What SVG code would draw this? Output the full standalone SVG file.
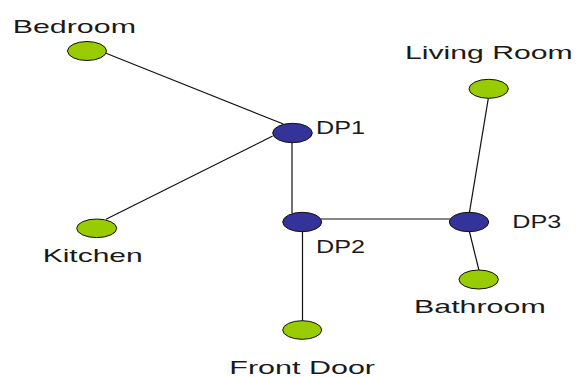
<svg xmlns="http://www.w3.org/2000/svg" width="576" height="377" viewBox="0 0 576 377">
<style>
.room{fill:#99cc00;stroke:#111;stroke-width:1}
.dp{fill:#333399;stroke:#111;stroke-width:1}
.lbl{font-family:"Liberation Sans",Arial,sans-serif;font-size:19px;fill:#1a1a1a}
#connectors line{stroke:#111;stroke-width:1.2}
</style>
<rect width="576" height="377" fill="#fff"/>
<g id="connectors">
<line x1="106" y1="53.3" x2="283.3" y2="124"/>
<line x1="272.7" y1="136" x2="106" y2="219.3"/>
<line x1="292" y1="142" x2="292" y2="213"/>
<line x1="302.5" y1="231" x2="302.5" y2="321"/>
<line x1="321" y1="219" x2="450" y2="219"/>
<line x1="469.3" y1="213.3" x2="488.3" y2="98.3"/>
<line x1="469.3" y1="231" x2="479" y2="270.5"/>
</g>
<g id="bedroom">
<ellipse class="room" cx="87" cy="51" rx="19.5" ry="9.5"/>
<text class="lbl" x="12.7" y="33.3" textLength="123.3" lengthAdjust="spacingAndGlyphs">Bedroom</text>
</g>
<g id="dp1">
<ellipse class="dp" cx="292.5" cy="133" rx="19.8" ry="9.7"/>
<text class="lbl" x="316" y="134" textLength="49" lengthAdjust="spacingAndGlyphs">DP1</text>
</g>
<g id="kitchen">
<ellipse class="room" cx="96.7" cy="228.3" rx="20" ry="9.3"/>
<text class="lbl" x="42.7" y="261.7" textLength="100" lengthAdjust="spacingAndGlyphs">Kitchen</text>
</g>
<g id="dp2">
<ellipse class="dp" cx="302.2" cy="222" rx="19.5" ry="9.7"/>
<text class="lbl" x="316" y="253.3" textLength="49" lengthAdjust="spacingAndGlyphs">DP2</text>
</g>
<g id="front-door">
<ellipse class="room" cx="302.2" cy="330" rx="19.5" ry="9.3"/>
<text class="lbl" x="229.3" y="374.3" textLength="145.7" lengthAdjust="spacingAndGlyphs">Front Door</text>
</g>
<g id="dp3">
<ellipse class="dp" cx="469" cy="222" rx="19.7" ry="9.7"/>
<text class="lbl" x="512.3" y="227.7" textLength="49" lengthAdjust="spacingAndGlyphs">DP3</text>
</g>
<g id="living-room">
<ellipse class="room" cx="488.7" cy="88.8" rx="19.7" ry="9.5"/>
<text class="lbl" x="405" y="59" textLength="167.7" lengthAdjust="spacingAndGlyphs">Living Room</text>
</g>
<g id="bathroom">
<ellipse class="room" cx="478.7" cy="279.5" rx="19.7" ry="9.5"/>
<text class="lbl" x="414" y="312.7" textLength="131.7" lengthAdjust="spacingAndGlyphs">Bathroom</text>
</g>
</svg>
